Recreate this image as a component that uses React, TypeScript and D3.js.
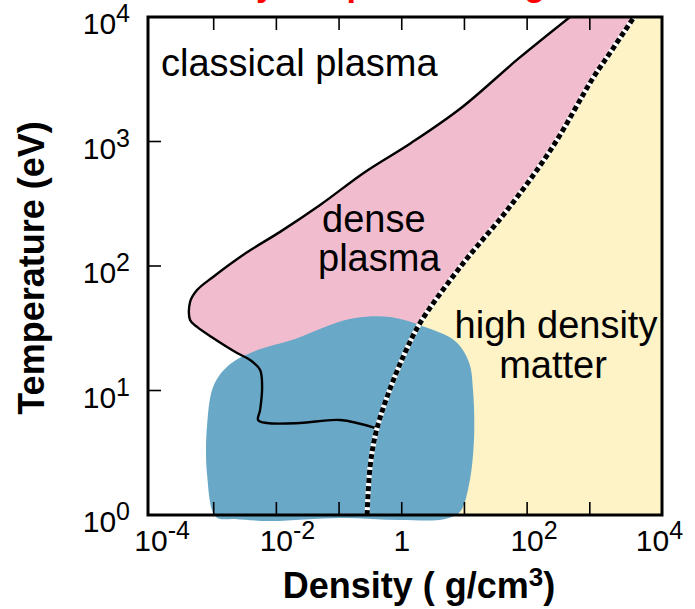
import React from "react";
import * as d3 from "d3";

// Regime boundaries in the density–temperature plane.
// Density in g/cm^3, temperature in eV.

// Classical / dense plasma boundary (solid line)
const classicalDensity = [483, 71.6, 8.83, 1.41, 0.26, 0.0498, 0.01146, 0.00341, 0.000977, 0.000543, 0.00042, 0.00042, 0.000543, 0.000977, 0.00236, 0.00381, 0.0055, 0.00592, 0.0055, 0.00511, 0.00711, 0.0239, 0.1038, 0.375];
const classicalTemp = [10000, 4603, 1858, 973, 569, 309, 188, 129, 81.7, 64.1, 51.4, 36.8, 32.4, 26.4, 20.0, 17.6, 14.6, 10.7, 6.97, 5.79, 5.48, 5.48, 5.79, 5.0];

// Degeneracy boundary (dashed line) between plasma and high density matter
const degenerateDensity = [0.28, 0.312, 0.389, 0.583, 1.05, 1.96, 8.83, 49.6, 249, 1125, 2259, 5070];
const degenerateTemp = [1, 2.43, 4.64, 8.87, 18.6, 34.8, 100, 287, 887, 3236, 5433, 10000];

// Outline of the warm dense matter region (blue)
const wdmDensity = [0.00109, 0.000785, 0.000785, 0.00101, 0.00183, 0.00457, 0.0199, 0.0718, 0.18, 0.651, 2.11, 7.08, 11.8, 13.7, 14.2, 11.8, 8.51, 4.91, 0.94, 0.104, 0.00794, 0.00219];
const wdmTemp = [0.964, 2.1, 5.28, 11.1, 16.3, 20.8, 25.9, 33.6, 38.2, 38.9, 33.0, 25.0, 16.9, 10.1, 4.0, 1.74, 1.06, 0.929, 0.912, 0.946, 0.895, 0.929];

// Axis ticks
const xMinorTicks = [1e-3, 1e-2, 1e-1, 1, 1e1, 1e2, 1e3];
const xLabelTicks = [1e-4, 1e-2, 1, 1e2, 1e4];
const yMinorTicks = [10, 100, 1000];
const yLabelTicks = [1, 10, 100, 1000, 10000];

const FONT = "'Liberation Sans', Arial, Helvetica, sans-serif";
const PINK = "#f2bccf";
const YELLOW = "#fdf3c7";
const BLUE = "#6aa8c8";

export default function App() {
  const W = 695;
  const H = 609;
  const frame = { left: 148, right: 662, top: 17, bottom: 515 };

  const x = d3.scaleLog().domain([1e-4, 1e4]).range([151, 652.5]);
  const y = d3.scaleLog().domain([1, 1e4]).range([frame.bottom, frame.top]);

  const zip = (a: number[], b: number[]) => a.map((v, i) => [v, b[i]] as [number, number]);
  const classicalPts = zip(classicalDensity, classicalTemp);
  const degeneratePts = zip(degenerateDensity, degenerateTemp);
  const wdmPts = zip(wdmDensity, wdmTemp);

  const smooth = d3
    .line<[number, number]>()
    .x((d) => x(d[0]))
    .y((d) => y(d[1]))
    .curve(d3.curveCatmullRom.alpha(0.5));
  const blob = d3
    .line<[number, number]>()
    .x((d) => x(d[0]))
    .y((d) => y(d[1]))
    .curve(d3.curveCatmullRomClosed.alpha(0.5));

  const classicalPath = smooth(classicalPts) as string;
  const degeneratePath = smooth(degeneratePts) as string;
  const farX = x(1e5);

  const pinkPath = `${classicalPath}L${farX},${y(5)}L${farX},${y(1e4)}Z`;
  const yellowPath = `${degeneratePath}L${farX},${y(1e4)}L${farX},${y(1)}Z`;

  const exp = (v: number) => Math.round(Math.log10(v));

  return (
    <svg
      width={W}
      height={H}
      viewBox={`0 0 ${W} ${H}`}
      style={{ position: "absolute", left: 0, top: 0, background: "#fff" }}
      fontFamily={FONT}
    >
      <defs>
        <clipPath id="plot-area">
          <rect x={frame.left} y={frame.top} width={frame.right - frame.left} height={frame.bottom - frame.top} />
        </clipPath>
      </defs>

      {/* title, cropped by the top edge */}
      <text x={152} y={-4} fill="#ff0000" fontSize={34} fontWeight="bold">
        Density-temperature regimes
      </text>

      <g clipPath="url(#plot-area)">
        <path d={pinkPath} fill={PINK} />
        <path d={yellowPath} fill={YELLOW} />
      </g>

      <path d={blob(wdmPts) as string} fill={BLUE} />

      <g clipPath="url(#plot-area)">
        <path d={classicalPath} fill="none" stroke="#000" strokeWidth={2.4} strokeLinejoin="round" />
        <path d={degeneratePath} fill="none" stroke="#fff" strokeWidth={5} />
        <path d={degeneratePath} fill="none" stroke="#000" strokeWidth={5} strokeDasharray="5 3" />
      </g>

      {/* ticks */}
      {xMinorTicks.map((t) => (
        <g key={`xt${t}`} stroke="#000" strokeWidth={1.6}>
          <line x1={x(t)} x2={x(t)} y1={frame.bottom} y2={frame.bottom - 13} />
          <line x1={x(t)} x2={x(t)} y1={frame.top} y2={frame.top + 13} />
        </g>
      ))}
      {yMinorTicks.map((t) => (
        <line key={`yt${t}`} x1={frame.left} x2={frame.left + 13} y1={y(t)} y2={y(t)} stroke="#000" strokeWidth={1.6} />
      ))}

      <rect
        x={frame.left}
        y={frame.top}
        width={frame.right - frame.left}
        height={frame.bottom - frame.top}
        fill="none"
        stroke="#000"
        strokeWidth={3}
      />

      {/* tick labels */}
      {xLabelTicks.map((t) =>
        exp(t) === 0 ? (
          <text key={`xl${t}`} x={x(t)} y={551} fontSize={30} textAnchor="middle">
            1
          </text>
        ) : (
          <text key={`xl${t}`} x={x(t) - 16.7} y={551} fontSize={30}>
            10
            <tspan dy={-12} fontSize={25}>
              {exp(t) < 0 ? `-${-exp(t)}` : `${exp(t)}`}
            </tspan>
          </text>
        )
      )}
      {yLabelTicks.map((t) => (
        <text key={`yl${t}`} x={130} y={y(t) + 17} fontSize={30} textAnchor="end">
          10
          <tspan dy={-12} fontSize={25}>
            {`${exp(t)}`}
          </tspan>
        </text>
      ))}

      {/* axis titles */}
      <text x={419} y={598} fontSize={36} fontWeight="bold" textAnchor="middle">
        Density ( g/cm
        <tspan dy={-12} fontSize={26}>
          3
        </tspan>
        <tspan dy={12}>)</tspan>
      </text>
      <text transform="translate(44,268) rotate(-90)" fontSize={36} fontWeight="bold" textAnchor="middle">
        Temperature (eV)
      </text>

      {/* region labels */}
      <g fontSize={38} fill="#000">
        <text x={161} y={76}>classical plasma</text>
        <text x={322} y={232}>dense</text>
        <text x={318} y={271}>plasma</text>
        <text x={556} y={338} textAnchor="middle">high density</text>
        <text x={553} y={378} textAnchor="middle">matter</text>
      </g>
    </svg>
  );
}
